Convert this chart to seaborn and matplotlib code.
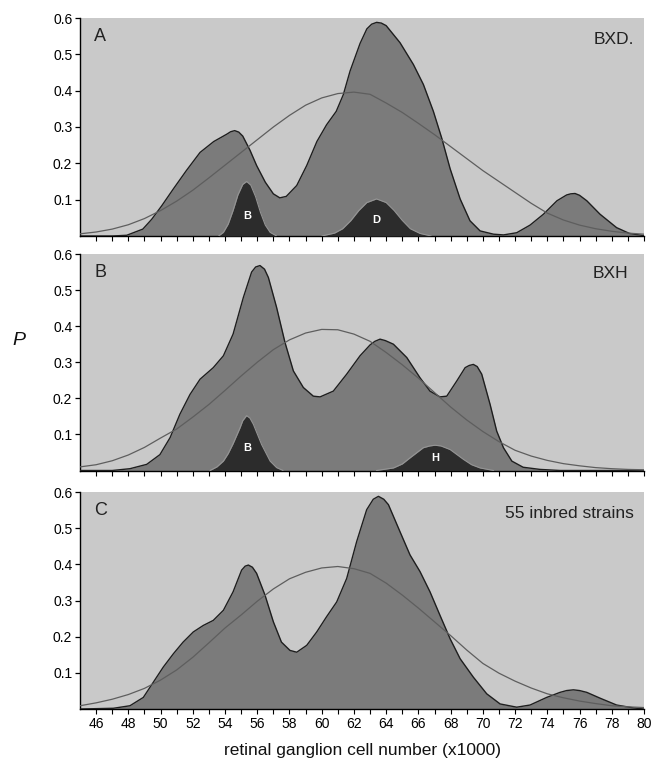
import matplotlib
matplotlib.use("Agg")
import matplotlib.pyplot as plt
from matplotlib.ticker import FixedLocator
import seaborn as sns

# ---------------- data ----------------
# Panel A: BXD
a_main_x = [45.0, 47.0, 47.9, 48.9, 49.45, 50.07, 50.8, 51.6, 52.45, 53.3, 54.1, 54.35, 54.6,
            54.85, 55.1, 55.55, 55.96, 56.5, 57.0, 57.4, 57.8, 58.45, 59.07, 59.7, 60.3, 60.9,
            61.34, 61.76, 62.38, 62.8, 63.1, 63.41, 63.7, 64.0, 64.86, 65.69, 66.31, 66.93,
            67.45, 67.97, 68.59, 69.2, 69.83, 70.66, 71.28, 72.1, 72.93, 73.76, 74.6, 75.2,
            75.45, 75.72, 76.0, 76.45, 77.27, 78.3, 79.1, 80.0]
a_main_y = [0.0, 0.0, 0.002, 0.019, 0.046, 0.083, 0.13, 0.18, 0.23, 0.26, 0.28, 0.287, 0.29,
            0.286, 0.275, 0.236, 0.194, 0.148, 0.116, 0.105, 0.109, 0.139, 0.194, 0.26, 0.306, 0.343,
            0.389, 0.454, 0.53, 0.57, 0.583, 0.588, 0.586, 0.579, 0.532, 0.472, 0.417, 0.343,
            0.269, 0.185, 0.102, 0.042, 0.014, 0.005, 0.003, 0.009, 0.03, 0.06, 0.097, 0.113,
            0.116, 0.117, 0.112, 0.097, 0.06, 0.023, 0.007, 0.001]
a_b_x = [53.6, 53.9, 54.2, 54.5, 54.8, 55.1, 55.34, 55.6, 55.9, 56.2, 56.5, 56.8, 57.2]
a_b_y = [0.0, 0.01, 0.033, 0.07, 0.113, 0.142, 0.15, 0.14, 0.108, 0.065, 0.03, 0.01, 0.0]
a_d_x = [60.0, 60.8, 61.3, 61.8, 62.3, 62.8, 63.4, 64.0, 64.5, 65.0, 65.5, 66.1, 66.8]
a_d_y = [0.0, 0.008, 0.02, 0.042, 0.07, 0.092, 0.102, 0.092, 0.07, 0.043, 0.02, 0.007, 0.0]
norm_x = list(range(45, 81))
a_norm_y = [0.006, 0.011, 0.019, 0.031, 0.048, 0.07, 0.096, 0.126, 0.16, 0.195, 0.23, 0.265,
            0.3, 0.332, 0.36, 0.38, 0.392, 0.396, 0.39, 0.366, 0.34, 0.31, 0.279, 0.246,
            0.213, 0.18, 0.15, 0.12, 0.09, 0.063, 0.044, 0.03, 0.02, 0.013, 0.008, 0.005]

# Panel B: BXH
b_main_x = [45.0, 47.0, 48.1, 49.14, 49.96, 50.59, 51.2, 51.83, 52.45, 53.27, 53.9, 54.5,
            55.14, 55.65, 55.9, 56.17, 56.45, 56.69, 57.2, 57.72, 58.24, 58.86, 59.48, 59.9,
            60.72, 61.55, 62.38, 63.0, 63.3, 63.62, 63.95, 64.45, 65.28, 66.1, 66.72, 67.34,
            67.76, 68.38, 68.9, 69.15, 69.41, 69.65, 69.93, 70.45, 70.86, 71.28, 71.8, 72.5,
            73.55, 74.8, 80.0]
b_main_y = [0.0, 0.0, 0.005, 0.017, 0.044, 0.091, 0.156, 0.211, 0.253, 0.285, 0.318, 0.378,
            0.48, 0.55, 0.564, 0.568, 0.558, 0.535, 0.452, 0.355, 0.276, 0.23, 0.206, 0.204,
            0.22, 0.267, 0.318, 0.348, 0.358, 0.364, 0.36, 0.35, 0.313, 0.257, 0.22, 0.204,
            0.206, 0.248, 0.285, 0.291, 0.294, 0.288, 0.267, 0.183, 0.109, 0.063, 0.026, 0.009,
            0.003, 0.0, 0.0]
b_b_x = [53.07, 53.5, 53.9, 54.2, 54.5, 54.93, 55.1, 55.34, 55.55, 55.76, 56.27, 56.8, 57.2, 57.6]
b_b_y = [0.0, 0.01, 0.026, 0.047, 0.074, 0.118, 0.138, 0.152, 0.145, 0.128, 0.072, 0.026, 0.008, 0.0]
b_h_x = [63.4, 64.45, 65.0, 65.48, 66.3, 66.7, 67.03, 67.4, 67.97, 68.79, 69.3, 69.83, 70.66]
b_h_y = [0.0, 0.007, 0.018, 0.035, 0.063, 0.068, 0.07, 0.068, 0.058, 0.031, 0.016, 0.007, 0.0]
b_norm_y = [0.01, 0.016, 0.027, 0.043, 0.064, 0.09, 0.115, 0.148, 0.183, 0.222, 0.262, 0.3,
            0.335, 0.362, 0.381, 0.391, 0.39, 0.378, 0.358, 0.327, 0.293, 0.256, 0.216,
            0.176, 0.14, 0.108, 0.08, 0.056, 0.04, 0.028, 0.019, 0.013, 0.008, 0.005,
            0.003, 0.002]

# Panel C: 55 inbred strains
c_main_x = [45.0, 47.07, 48.1, 48.93, 49.55, 50.17, 50.8, 51.4, 52.03, 52.65, 53.27, 53.9,
            54.5, 55.03, 55.25, 55.45, 55.7, 55.96, 56.48, 57.0, 57.5, 58.03, 58.45, 59.07,
            59.69, 60.3, 60.93, 61.55, 62.17, 62.79, 63.2, 63.52, 63.85, 64.14, 64.86, 65.48,
            66.1, 66.72, 67.34, 67.97, 68.59, 69.41, 70.24, 71.07, 72.1, 72.93, 73.96, 74.79,
            75.2, 75.62, 76.0, 76.45, 77.27, 78.3, 79.34, 80.0]
c_main_y = [0.0, 0.002, 0.009, 0.032, 0.074, 0.116, 0.153, 0.185, 0.213, 0.231, 0.245, 0.273,
            0.324, 0.384, 0.395, 0.398, 0.392, 0.375, 0.315, 0.241, 0.185, 0.162, 0.157, 0.176,
            0.213, 0.255, 0.296, 0.361, 0.463, 0.551, 0.58, 0.588, 0.58, 0.565, 0.49, 0.426,
            0.38, 0.324, 0.259, 0.194, 0.139, 0.088, 0.042, 0.014, 0.005, 0.011, 0.032, 0.046,
            0.051, 0.053, 0.051, 0.046, 0.03, 0.011, 0.003, 0.0]
c_norm_y = [0.009, 0.017, 0.027, 0.04, 0.057, 0.08, 0.108, 0.143, 0.183, 0.224, 0.26, 0.298,
            0.332, 0.36, 0.378, 0.39, 0.394, 0.388, 0.375, 0.348, 0.315, 0.279, 0.241,
            0.203, 0.163, 0.126, 0.099, 0.077, 0.058, 0.042, 0.031, 0.022, 0.015, 0.009,
            0.006, 0.004]

panel_letters = ["A", "B", "C"]
panel_titles = ["BXD.", "BXH", "55 inbred strains"]
x_tick_values = list(range(46, 81))
x_tick_labels = [str(v) if v % 2 == 0 else "" for v in x_tick_values]
y_tick_values = [0.1, 0.2, 0.3, 0.4, 0.5, 0.6]
y_tick_labels = ["0.1", "0.2", "0.3", "0.4", "0.5", "0.6"]

# ---------------- style ----------------
sns.set_theme(style="ticks")
plt.rcParams["font.family"] = ["Liberation Sans", "DejaVu Sans"]
plt.rcParams["lines.solid_joinstyle"] = "round"

BG = "#c9c9c9"
MAIN = "#7b7b7b"
DARK = "#2c2c2c"
NORM = "#5e5e5e"

fig = plt.figure(figsize=(6.55, 7.74), dpi=100)
fig.patch.set_facecolor("white")

rects = [
    [80 / 655, (774 - 236) / 774, 564 / 655, 218 / 774],
    [80 / 655, (774 - 470.5) / 774, 564 / 655, 216.5 / 774],
    [80 / 655, (774 - 709) / 774, 564 / 655, 217 / 774],
]

panels = [
    dict(main=(a_main_x, a_main_y), norm=a_norm_y,
         peaks=[(a_b_x, a_b_y, "B", 55.35, 0.055), (a_d_x, a_d_y, "D", 63.4, 0.045)]),
    dict(main=(b_main_x, b_main_y), norm=b_norm_y,
         peaks=[(b_b_x, b_b_y, "B", 55.35, 0.062), (b_h_x, b_h_y, "H", 67.05, 0.034)]),
    dict(main=(c_main_x, c_main_y), norm=c_norm_y, peaks=[]),
]

title_pos = [(0.982, 0.935), (0.972, 0.945), (0.982, 0.935)]

for i, (rect, p) in enumerate(zip(rects, panels)):
    ax = fig.add_axes(rect)
    ax.set_facecolor(BG)
    mx, my = p["main"]
    ax.fill_between(mx, my, 0, color=MAIN, lw=0, zorder=2)
    sns.lineplot(x=mx, y=my, ax=ax, color="#1e1e1e", lw=1.0, estimator=None,
                 sort=False, zorder=4)
    for px_, py_, lab, lx, ly in p["peaks"]:
        ax.fill_between(px_, py_, 0, color=DARK, lw=0, zorder=3)
        sns.lineplot(x=px_, y=py_, ax=ax, color="#959595", lw=0.8, estimator=None,
                     sort=False, zorder=3.5)
        ax.text(lx, ly, lab, color="white", fontsize=8, fontweight="bold",
                ha="center", va="center", zorder=6)
    sns.lineplot(x=norm_x, y=p["norm"], ax=ax, color=NORM, lw=0.9, estimator=None,
                 sort=False, zorder=5)

    ax.set_xlim(45, 80)
    ax.set_ylim(0, 0.6)
    for s in ["top", "right"]:
        ax.spines[s].set_visible(False)
    for s in ["left", "bottom"]:
        ax.spines[s].set_color("black")
        ax.spines[s].set_linewidth(1.0)
    ax.set_yticks(y_tick_values)
    ax.set_yticklabels(y_tick_labels)
    ax.set_xticks(x_tick_values)
    ax.xaxis.set_minor_locator(FixedLocator([50, 60, 70]))
    if i == 2:
        ax.set_xticklabels(x_tick_labels)
    else:
        ax.set_xticklabels([])
    ax.tick_params(axis="y", direction="out", length=3.5, width=0.9, labelsize=10,
                   pad=2, colors="black")
    ax.tick_params(axis="x", which="major", direction="out", length=3.6, width=0.8,
                   labelsize=10, pad=2, colors="black")
    ax.tick_params(axis="x", which="minor", direction="out", length=5.8, width=1.6,
                   colors="black")
    ax.set_xlabel("")
    ax.set_ylabel("")
    ax.text(0.025, 0.955, panel_letters[i], transform=ax.transAxes, fontsize=13,
            ha="left", va="top", color="#222222")
    tx, ty = title_pos[i]
    ax.text(tx, ty, panel_titles[i], transform=ax.transAxes, fontsize=12.5,
            ha="right", va="top", color="#222222")

fig.text(362 / 655, 1 - 750 / 774, "retinal ganglion cell number (x1000)",
         ha="center", va="center", fontsize=12.5, color="#111111")
fig.text(19 / 655, 1 - 340 / 774, "P", ha="center", va="center", fontsize=14,
         style="italic", color="#111111")

fig.savefig("out.png", dpi=100, facecolor="white")
